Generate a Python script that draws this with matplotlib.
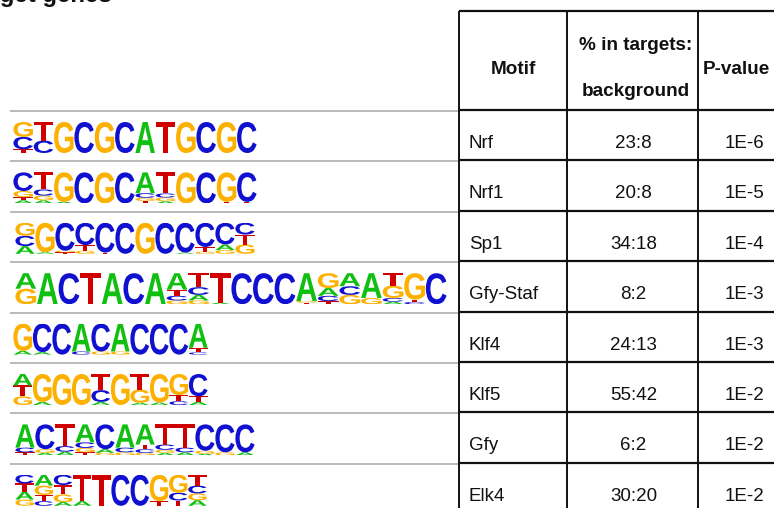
import matplotlib
matplotlib.use("Agg")
import matplotlib.pyplot as plt
from matplotlib.textpath import TextPath
from matplotlib.patches import PathPatch
from matplotlib.font_manager import FontProperties
from matplotlib.transforms import Affine2D

# ---------------------------------------------------------------- data
motif_names = ["Nrf", "Nrf1", "Sp1", "Gfy-Staf", "Klf4", "Klf5", "Gfy", "Elk4"]
target_pct = [23, 20, 34, 8, 24, 55, 6, 30]
background_pct = [8, 8, 18, 2, 13, 42, 2, 20]
p_values = ["1E-6", "1E-5", "1E-4", "1E-3", "1E-3", "1E-2", "1E-2", "1E-2"]

# Base probabilities per logo column, listed bottom -> top
nrf_logo = ["T:.12 C:.40 G:.48", "C:.40 T:.60", "G:1", "C:1", "G:1", "C:1",
            "A:1", "T:1", "G:1", "C:1", "G:1", "C:1"]
nrf1_logo = ["A:.10 T:.10 G:.20 C:.60", "A:.10 G:.15 C:.20 T:.55", "A:.05 G:.95", "C:1",
             "G:1", "C:1", "T:.08 G:.10 C:.15 A:.67", "A:.07 G:.12 C:.13 T:.68",
             "G:1", "C:1", "T:.05 G:.95", "T:.05 C:.95"]
sp1_logo = ["A:.25 C:.33 G:.42", "A:.05 G:.95", "T:.05 G:.05 C:.90", "G:.10 T:.18 C:.72",
            "T:.04 C:.96", "C:1", "G:1", "C:1", "A:.04 C:.96", "G:.07 T:.15 C:.78",
            "G:.12 A:.18 C:.70", "G:.30 T:.32 C:.38"]
gfy_staf_logo = ["G:.50 A:.50", "A:1", "C:1", "T:1", "A:1", "C:1", "A:1",
                 "G:.12 C:.15 T:.20 A:.53", "G:.12 A:.18 C:.25 T:.45", "A:.05 T:.95",
                 "C:1", "C:1", "C:1", "T:.05 G:.05 A:.90", "T:.10 C:.17 A:.25 G:.48",
                 "G:.30 C:.28 A:.42", "G:.20 A:.80", "A:.08 C:.12 G:.40 T:.40",
                 "C:.07 T:.08 G:.85", "C:1"]
klf4_logo = ["A:.12 G:.88", "A:.08 C:.92", "C:1", "C:.10 A:.90", "G:.10 C:.90", "G:.10 A:.90",
             "C:1", "C:1", "C:1", "C:.07 T:.15 A:.78"]
klf5_logo = ["G:.28 T:.35 A:.37", "A:.10 G:.90", "G:1", "G:1", "A:.10 C:.38 T:.52",
             "G:1", "A:.07 G:.43 T:.50", "A:.08 G:.92", "C:.12 T:.20 G:.68",
             "A:.10 T:.18 C:.72"]
gfy_logo = ["T:.10 C:.15 A:.75", "A:.08 G:.12 C:.80", "A:.12 C:.18 T:.70",
            "T:.10 G:.14 C:.18 A:.58", "G:.08 A:.12 C:.80", "G:.10 C:.15 A:.75",
            "G:.08 C:.12 T:.15 A:.65", "A:.08 G:.10 C:.17 T:.65", "A:.10 C:.15 T:.75",
            "A:.05 G:.10 C:.85", "G:.10 C:.90", "A:.10 C:.90"]
elk4_logo = ["G:.20 A:.25 T:.27 C:.28", "C:.15 T:.20 G:.30 A:.35", "A:.12 G:.25 T:.30 C:.33",
             "A:.15 T:.85", "T:1", "C:1", "C:1", "T:.15 G:.85",
             "T:.17 C:.25 G:.58", "A:.18 G:.22 C:.25 T:.35"]
logos = [nrf_logo, nrf1_logo, sp1_logo, gfy_staf_logo, klf4_logo, klf5_logo, gfy_logo, elk4_logo]

# ---------------------------------------------------------------- layout (pixels)
W, H = 774, 508
header_top, header_bottom = 11, 110
row_h = 50.4
col_x = [459, 567, 698]
logo_left = [13, 13, 15, 15, 13, 13, 15, 15]
logo_right = [257, 257, 255, 447, 208, 208, 255, 207]

LOGO_FONT = FontProperties(family="Liberation Sans", weight="bold")
COLORS = {"A": "#10c010", "C": "#1010d0", "G": "#fcb000", "T": "#d00000"}
GLYPHS = {b: TextPath((0, 0), b, size=1, prop=LOGO_FONT) for b in "ACGT"}


def parse_column(spec):
    out = []
    for tok in spec.split():
        b, h = tok.split(":")
        out.append((b, float(h)))
    return out


def draw_letter(ax, letter, x, y, w, h):
    path = GLYPHS[letter]
    ext = path.get_extents()
    tr = (Affine2D().translate(-ext.x0, -ext.y0)
          .scale(w / ext.width, h / ext.height).translate(x, y))
    ax.add_patch(PathPatch(tr.transform_path(path), fc=COLORS[letter], ec="none", lw=0))


fig = plt.figure(figsize=(W / 100, H / 100), dpi=100)
bg = fig.add_axes([0, 0, 1, 1])
bg.set_xlim(0, W)
bg.set_ylim(H, 0)
bg.axis("off")

n = len(motif_names)
row_tops = [header_bottom + i * row_h for i in range(n + 1)]

# title line running above the figure panel
bg.text(112, 2.3, "target genes", ha="right", va="baseline", fontsize=17.3,
        fontweight="bold", family="Liberation Sans", color="#111111")

# grey separators beside the logos
for y in row_tops:
    bg.plot([10, col_x[0]], [y + 1, y + 1], color="#b4b4b4", lw=1.3, solid_capstyle="butt")

# table grid
for y in [header_top, header_bottom] + row_tops[1:]:
    bg.plot([col_x[0], W + 5], [y, y], color="#111111", lw=1.6, solid_capstyle="butt")
for x in col_x:
    bg.plot([x, x], [header_top, H + 5], color="#111111", lw=1.4, solid_capstyle="butt")

# header
hdr = dict(fontsize=13.6, fontweight="bold", family="Liberation Sans", color="#111111",
           va="center")
bg.text((col_x[0] + col_x[1]) / 2, 69, "Motif", ha="center", **hdr)
bg.text((col_x[1] + col_x[2]) / 2 + 3, 45, "% in targets:", ha="center", **hdr)
bg.text((col_x[1] + col_x[2]) / 2 + 3, 92, "background", ha="center", **hdr)
bg.text(703, 69, "P-value", ha="left", **hdr)

body = dict(fontsize=13.5, family="Liberation Sans", color="#111111", va="center")
for i in range(n):
    yc = row_tops[i] + 33.5
    bg.text(469, yc, motif_names[i], ha="left", **body)
    bg.text(633.5, yc, f"{target_pct[i]}:{background_pct[i]}", ha="center", **body)
    bg.text(744, yc, p_values[i], ha="center", **body)

# sequence logos (column height = 1, letters stacked by probability)
for i, logo in enumerate(logos):
    top = row_tops[i] + 12
    bottom = row_tops[i] + 43
    ax = fig.add_axes([logo_left[i] / W, 1 - bottom / H,
                       (logo_right[i] - logo_left[i]) / W, (bottom - top) / H])
    ax.set_xlim(0, len(logo))
    ax.set_ylim(0, 1)
    ax.axis("off")
    for j, spec in enumerate(logo):
        y = 0.0
        for b, h in parse_column(spec):
            draw_letter(ax, b, j + 0.02, y, 0.96, h)
            y += h

fig.savefig("out.png", dpi=100)
